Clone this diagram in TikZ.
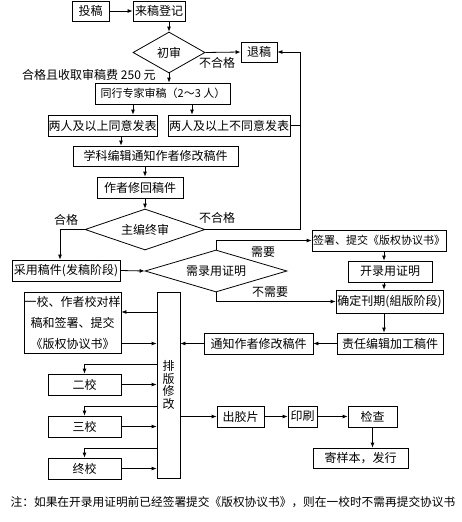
\documentclass[tikz,border=0pt]{standalone}
\usepackage{fontspec}
\setmainfont{Noto Sans CJK SC}
\usetikzlibrary{shapes.geometric,arrows.meta}

\tikzset{
  box/.style={draw, inner sep=0pt, minimum height=21pt},
  dia/.style={diamond, draw, inner sep=0pt},
  lbl/.style={inner sep=0pt},
}

\begin{document}
\begin{tikzpicture}[x=1pt,y=-1pt,line width=0.8pt,>={Latex[length=5pt,width=4pt]},
    font=\fontsize{12pt}{14pt}\selectfont]
  \useasboundingbox (0,0) rectangle (461,522);
  % lanes
  \coordinate (xa) at (133,0);
  \coordinate (xb) at (192,0);
  \coordinate (xc) at (121,0);
  \coordinate (xd) at (384,0);
  \coordinate (xr) at (300,0);
  \coordinate (xl) at (60,0);
  \coordinate (ya) at (0,312);
  \coordinate (yb) at (0,364);
  \coordinate (yc) at (0,406);
  \coordinate (yd) at (0,448);

  % review
  \node[box,minimum width=37pt,minimum height=20pt] (tougao) at (90.5,11) {投稿};
  \node[box,minimum width=52pt,minimum height=20pt] (dengji) at (159,11) {来稿登记};
  \node[dia,minimum width=72pt,minimum height=41pt,aspect=1.75] (chushen) at (169,52.5) {初审};
  \node[box,minimum width=36pt,minimum height=20pt] (tuigao) at (259,52) {退稿};
  \node[box,minimum width=135pt,font=\fontsize{11pt}{14pt}\selectfont] (tonghang) at (163,93.5) {同行专家审稿（2～3 人）};
  \node[box,minimum width=109pt] (tongyi) at (102.5,125.5) {两人及以上同意发表};
  \node[box,minimum width=122pt] (butongyi) at (229,125.5) {两人及以上不同意发表};
  \node[box,minimum width=165pt,minimum height=20pt] (xueke) at (155.5,156) {学科编辑通知作者修改稿件};
  \node[box,minimum width=86pt] (xiuhui) at (140,187.5) {作者修回稿件};
  \node[dia,minimum width=120pt,minimum height=41pt,aspect=2.9] (zhubian) at (145,229.5) {主编终审};

  % acceptance
  \node[box,minimum width=108pt] (caiyong) at (66,270.5) {采用稿件(发稿阶段)};
  \node[dia,minimum width=142pt,minimum height=42pt,aspect=3.4] (zhengming) at (216,271) {需录用证明};
  \node[box,minimum width=134pt,font=\fontsize{11pt}{14pt}\selectfont] (qianshu) at (379,240.5) {签署、提交《版权协议书》};
  \node[box,minimum width=84pt] (kailu) at (390,271.5) {开录用证明};
  \node[box,minimum width=107pt,minimum height=23pt] (kanqi) at (389.5,301.5) {确定刊期(組版阶段)};
  \node[box,minimum width=106pt] (zeren) at (390,343.5) {责任编辑加工稿件};
  \node[box,minimum width=109pt] (tongzhi) at (258.5,343.5) {通知作者修改稿件};

  % typesetting
  \node[box,minimum width=23pt,minimum height=186pt,align=center,
    font=\fontsize{12pt}{12.5pt}\selectfont] (paiban) at (168.5,385) {排\\版\\修\\改};
  \node[box,minimum width=97pt,minimum height=61pt,align=center,
    font=\fontsize{12pt}{21pt}\selectfont] (yijiao) at (72.5,322.5) {一校、作者校对样\\稿和签署、提交\\《版权协议书》};
  \node[box,minimum width=73pt] (erjiao) at (84.5,384.5) {二校};
  \node[box,minimum width=73pt] (sanjiao) at (84.5,426.5) {三校};
  \node[box,minimum width=73pt] (zhongjiao) at (84.5,468.5) {终校};
  \node[box,minimum width=47pt] (jiaopian) at (240.5,416.5) {出胶片};
  \node[box,minimum width=29pt] (yinshua) at (302.5,416.5) {印刷};
  \node[box,minimum width=49pt] (jiancha) at (372.5,416.5) {检查};
  \node[box,minimum width=95pt,minimum height=20pt] (jiyang) at (360.5,458) {寄样本，发行};

  % labels
  \node[lbl,anchor=east] (feiyong) at (156,75) {合格且收取审稿费 250 元};
  \node[lbl] (buhege) at (217,63) {不合格};
  \node[lbl] (hege) at (66,220) {合格};
  \node[lbl] (fouding) at (217,218) {不合格};
  \node[lbl] (xuyao) at (263,252) {需要};
  \node[lbl] (buxuyao) at (270,292) {不需要};
  \node[lbl,font=\fontsize{11.7pt}{14pt}\selectfont] (zhu) at (233,502)
    {注：如果在开录用证明前已经签署提交《版权协议书》，则在一校时不需再提交协议书};

  % connectors
  \draw[->] (tougao) -- (dengji);
  \draw[->] (chushen.north |- dengji.south) -- (chushen.north);
  \draw[->] (chushen.east) -- (tuigao.west);
  \draw[->] (chushen.south) -- (chushen.south |- tonghang.north);
  \draw[->] (tonghang.south -| xa) -- (tongyi.north -| xa);
  \draw[->] (tonghang.south -| xb) -- (butongyi.north -| xb);
  \draw[->] (tongyi.south -| xc) -- (xueke.north -| xc);
  \draw (butongyi.east) -- (butongyi.east -| xr);
  \draw[->] (xueke.south -| zhubian.north) -- (xiuhui.north -| zhubian.north);
  \draw[->] (xiuhui.south -| zhubian.north) -- (zhubian.north);
  \draw[->] (zhubian.east) -| (xr |- tuigao.east) -- (tuigao.east);
  \draw[->] (zhubian.west) -| (xl |- caiyong.north);
  \draw[->] (caiyong.east) -- (zhengming.west);
  \draw[->] (zhengming.north) |- (qianshu.west);
  \draw[->] (zhengming.south) |- (kanqi.west);
  \draw[->] (qianshu.south -| xd) -- (kailu.north -| xd);
  \draw[->] (kailu.south -| xd) -- (kanqi.north -| xd);
  \draw[->] (kanqi.south -| xd) -- (zeren.north -| xd);
  \draw[->] (zeren.west) -- (tongzhi.east);
  \draw[->] (tongzhi.west) -- (tongzhi.west -| paiban.east);
  \draw[->] (paiban.west |- ya) -- (yijiao.east |- ya);
  \draw[->] (yijiao.east |- tongzhi.west) -- (paiban.west |- tongzhi.west);
  \draw[->] (paiban.west |- yb) -| (erjiao.north);
  \draw[->] (erjiao.east) -- (erjiao.east -| paiban.west);
  \draw[->] (paiban.west |- yc) -| (sanjiao.north);
  \draw[->] (sanjiao.east) -- (sanjiao.east -| paiban.west);
  \draw[->] (paiban.west |- yd) -| (zhongjiao.north);
  \draw[->] (zhongjiao.east) -- (zhongjiao.east -| paiban.west);
  \draw[->] (paiban.east |- jiaopian.west) -- (jiaopian.west);
  \draw[->] (jiaopian) -- (yinshua);
  \draw[->] (yinshua) -- (jiancha);
  \draw[->] (jiancha.south) -- (jiancha.south |- jiyang.north);
\end{tikzpicture}
\end{document}
